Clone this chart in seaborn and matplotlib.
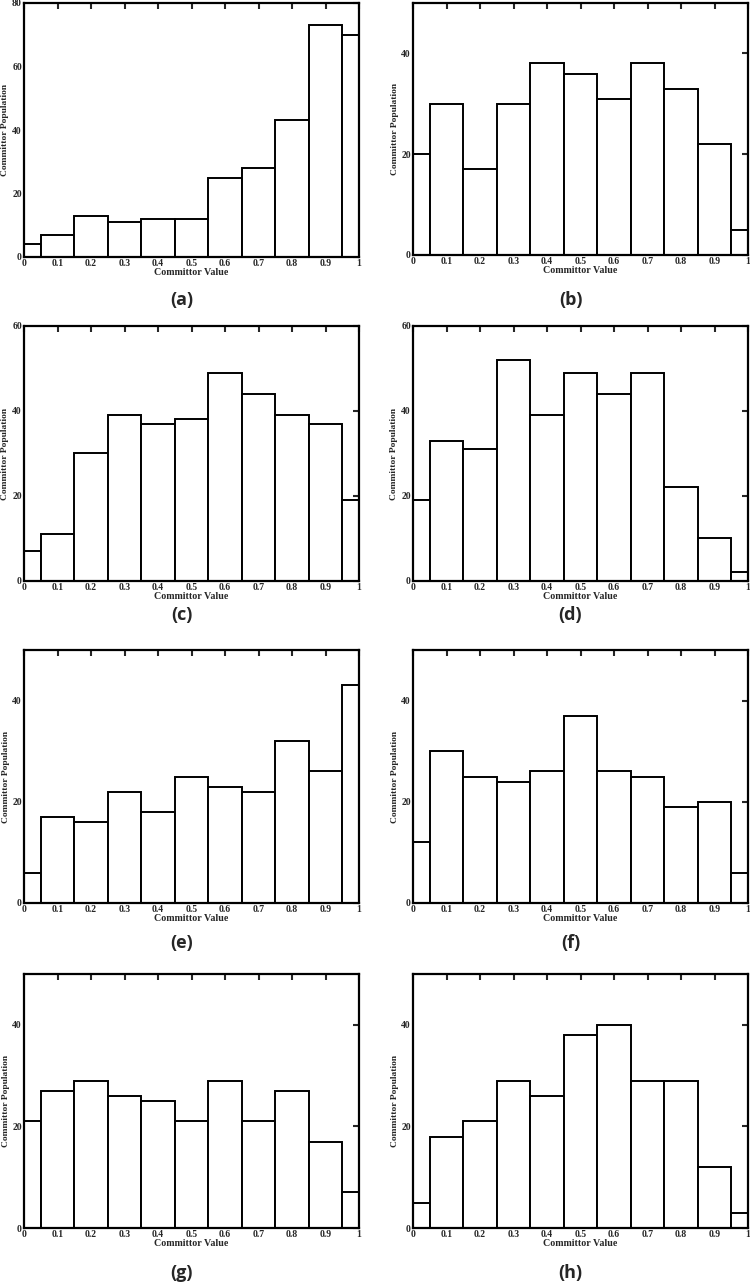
import seaborn as sns
import matplotlib.pyplot as plt
import pandas as pd
import numpy as np

# committor histograms, bins centred on 0, 0.1, ..., 1.0
centers = [0.0, 0.1, 0.2, 0.3, 0.4, 0.5, 0.6, 0.7, 0.8, 0.9, 1.0]
counts_a = [4, 7, 13, 11, 12, 12, 25, 28, 43, 73, 70]
counts_b = [20, 30, 17, 30, 38, 36, 31, 38, 33, 22, 5]
counts_c = [7, 11, 30, 39, 37, 38, 49, 44, 39, 37, 19]
counts_d = [19, 33, 31, 52, 39, 49, 44, 49, 22, 10, 2]
counts_e = [6, 17, 16, 22, 18, 25, 23, 22, 32, 26, 43]
counts_f = [12, 30, 25, 24, 26, 37, 26, 25, 19, 20, 6]
counts_g = [21, 27, 29, 26, 25, 21, 29, 21, 27, 17, 7]
counts_h = [5, 18, 21, 29, 26, 38, 40, 29, 29, 12, 3]
panel_names = ['(a)', '(b)', '(c)', '(d)', '(e)', '(f)', '(g)', '(h)']
ymaxes = [80, 50, 60, 60, 50, 50, 50, 50]

all_counts = [counts_a, counts_b, counts_c, counts_d, counts_e, counts_f, counts_g, counts_h]
bin_edges = list(np.arange(-0.05, 1.1, 0.1))

sns.set_style('white')
plt.rcParams['font.family'] = ['Liberation Serif', 'DejaVu Serif']

W, H = 750, 1282
fig = plt.figure(figsize=(W / 100, H / 100), dpi=100)

# pixel boxes (left, top, right, bottom) for each axes
boxes = [(24, 3, 359, 257), (413, 3, 748, 255),
         (24, 326, 359, 581), (413, 326, 748, 581),
         (24, 650, 359, 903), (413, 650, 748, 903),
         (24, 974, 359, 1228), (413, 974, 748, 1228)]
label_y = [300, 300, 615, 615, 943, 943, 1273, 1273]

for i, counts in enumerate(all_counts):
    l, t, r, b = boxes[i]
    ax = fig.add_axes([l / W, 1 - b / H, (r - l) / W, (b - t) / H])
    df = pd.DataFrame({'value': centers, 'count': counts})
    sns.histplot(data=df, x='value', weights='count', bins=bin_edges, ax=ax,
                 color='white', edgecolor='black', linewidth=1.4, alpha=1)
    ax.set_xlim(0, 1)
    ax.set_ylim(0, ymaxes[i])
    ax.set_xticks(centers)
    ax.set_xticklabels(['0', '0.1', '0.2', '0.3', '0.4', '0.5', '0.6', '0.7', '0.8', '0.9', '1'])
    ax.set_yticks(np.arange(0, ymaxes[i] + 1, 20))
    ax.tick_params(direction='in', top=True, right=True, length=4, width=1.5,
                   labelsize=7, pad=1.5)
    for lbl in ax.get_xticklabels() + ax.get_yticklabels():
        lbl.set_fontweight('bold')
    for sp in ax.spines.values():
        sp.set_linewidth(1.6)
        sp.set_color('black')
    ax.set_xlabel('Committor Value', fontsize=7.2, fontweight='bold', labelpad=0)
    ax.set_ylabel('Committor Population', fontsize=6.8, fontweight='bold', labelpad=2)
    cx = (l + r) / 2 - 10
    fig.text(cx / W, 1 - label_y[i] / H, panel_names[i], ha='center', va='center',
             fontsize=13, fontweight='bold', family=['Open Sans', 'DejaVu Sans'])

fig.savefig('out.png', dpi=100, facecolor='white')
